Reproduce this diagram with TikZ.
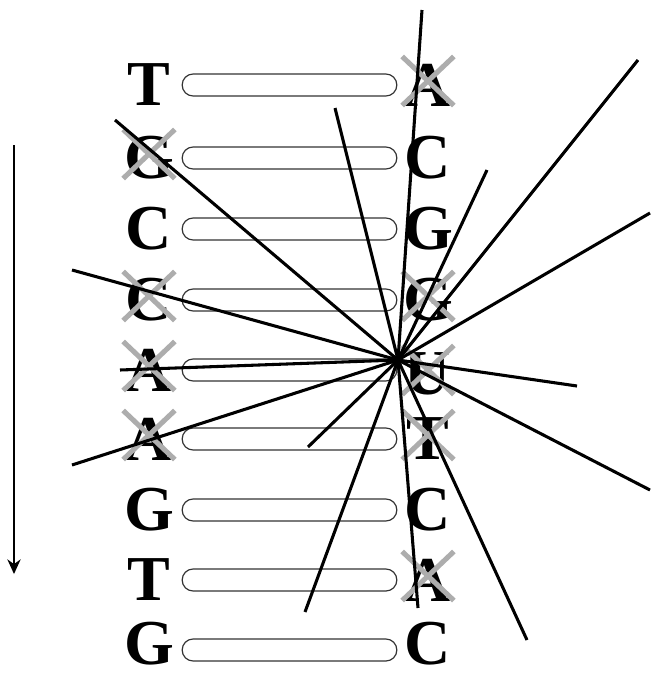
\documentclass[tikz,border=0pt]{standalone}
\usepackage{fontspec}
\setmainfont{Liberation Serif}
\usetikzlibrary{shapes.misc,arrows.meta}
\begin{document}
\begin{tikzpicture}[x=0.75pt,y=-0.75pt,
  base/.style={font=\fontsize{48}{48}\selectfont\bfseries, inner sep=0pt},
  pairbar/.style={draw=black!80, line width=0.9pt, rounded corners=8.2pt,
    minimum width=161pt, minimum height=16.5pt, inner sep=0pt},
  xmark/.style={cross out, draw=black!32, line width=3.8pt,
    minimum width=35pt, minimum height=33pt, inner sep=0pt},
  ray/.style={line width=2.3pt},
  dirarrow/.style={line width=1.1pt, -{Stealth[length=11pt,width=10pt]}}
]
\useasboundingbox (0,0) rectangle (654,679);

% pair bars
\foreach \i/\y in {1/85,2/158,3/229,4/300,5/370,6/439,7/510,8/580,9/650}{
  \node[pairbar] (O\i) at (289.5,\y) {};
}

% left strand
\node[base] (L1) at (149,85)  {T};
\node[base] (L2) at (149,158) {G};
\node[base] (L3) at (149,229) {C};
\node[base] (L4) at (149,300) {C};
\node[base] (L5) at (149,370) {A};
\node[base] (L6) at (149,439) {A};
\node[base] (L7) at (149,510) {G};
\node[base] (L8) at (149,580) {T};
\node[base] (L9) at (149,644) {G};

% right strand
\node[base] (R1) at (428,85)  {A};
\node[base] (R2) at (428,158) {C};
\node[base] (R3) at (428,229) {G};
\node[base] (R4) at (428,300) {G};
\node[base] (R5) at (428,374) {U};
\node[base] (R6) at (428,439) {T};
\node[base] (R7) at (428,510) {C};
\node[base] (R8) at (428,580) {A};
\node[base] (R9) at (428,644) {C};

% crossed-out bases
\foreach \n in {R1,L2,L4,R4,L5,R5,L6,R6,R8}{
  \node[xmark] at ([yshift=3pt]\n.center) {};
}

% direction arrow
\coordinate (a1) at (14,145);
\coordinate (a2) at (14,574);
\draw[dirarrow] (a1) -- (a2);

% rays
\coordinate (c) at (398,360);
\foreach \k/\px/\py in {1/422/10,2/335/108,3/487/170,4/638/60,
  5/650/213,6/577/386,7/115/120,8/72/270,9/120/370,
  10/72/465,11/308/447,12/650/490,13/418/608,14/527/640,
  15/305/612}{
  \coordinate (e\k) at (\px,\py);
  \draw[ray] (c) -- (e\k);
}
\end{tikzpicture}
\end{document}
